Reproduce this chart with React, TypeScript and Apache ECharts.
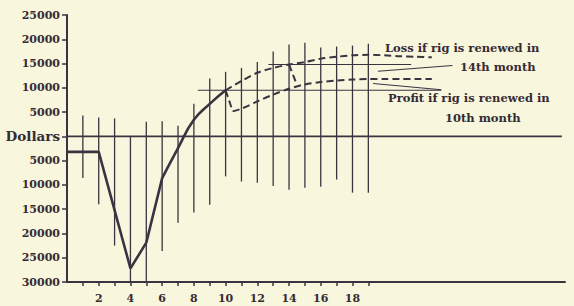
import React, { useEffect, useRef } from 'react';
import * as echarts from 'echarts';

// ---- data ----
const yTickValues = [-30000, -25000, -20000, -15000, -10000, -5000, 0, 5000, 10000, 15000, 20000, 25000];
const xLabelMonths = [2, 4, 6, 8, 10, 12, 14, 16, 18];
const xTickMonths = [1, 2, 3, 4, 5, 6, 7, 8, 9, 10, 11, 12, 13, 14, 15, 16, 17, 18, 19];

// vertical range lines per month
const rangeMonths = [1, 2, 3, 4, 5, 6, 7, 8, 9, 10, 11, 12, 13, 14, 15, 16, 17, 18, 19];
const rangeHighs = [4300, 3900, 3700, 0, 3000, 3100, 2200, 6700, 11900, 13300, 14100, 15300, 17500, 18900, 19300, 18300, 18500, 18700, 19100];
const rangeLows = [-8600, -14000, -22500, -30000, -30000, -23600, -17800, -15700, -14100, -8250, -9300, -9550, -10200, -11000, -10600, -10400, -8900, -11600, -11600];

// main solid curve
const earlyMonths = [0, 2, 4, 5, 6];
const earlyValues = [-3200, -3200, -27200, -21900, -8600];
const riseMonths = [6, 7, 8, 9, 10];
const riseValues = [-8600, -2400, 3400, 6700, 9500];

// dashed continuation (no renewal until 14th month)
const upperMonths = [10, 11, 12, 13, 14, 15, 16, 17, 18, 19, 20, 21, 22, 23];
const upperValues = [9500, 11400, 13100, 14100, 14800, 15300, 16000, 16400, 16700, 16800, 16700, 16500, 16400, 16300];

// renewal in 10th month: drop then dashed rise
const drop10Months = [10, 10.45];
const drop10Values = [9500, 5150];
const lowerMonths = [10.45, 11, 12, 13, 14, 15, 16, 17, 18, 19, 20, 21, 22, 23];
const lowerValues = [5150, 5700, 7200, 8600, 9800, 10700, 11200, 11500, 11700, 11800, 11800, 11800, 11800, 11800];

// renewal in 14th month: drop
const drop14Months = [14, 14.5];
const drop14Values = [14800, 10600];

// reference horizontals
const zeroLine = { from: 0, to: 31.2, value: 0 };
const level10 = { from: 8.25, to: 23.6, value: 9500 };
const level14 = { from: 12.7, to: 21.7, value: 14800 };

// annotation arrows [fromMonth, fromValue, toMonth, toValue]
const lossArrow = [24.3, 14600, 19.6, 13400];
const profitArrow = [23.6, 9600, 19.3, 10900];

const INK = '#3d3340';
const TEXT = '#352c33';
const BG = '#f9f6de';
const FONT = '"DejaVu Serif", "Liberation Serif", serif';

const zip = (xs: number[], ys: number[]) => xs.map((x, i) => [x, ys[i]]);

export default function App() {
  const ref = useRef<HTMLDivElement>(null);
  useEffect(() => {
    if (!ref.current) return;
    document.body.style.background = BG;
    const chart = echarts.init(ref.current, null, { renderer: 'svg' });
    const dashed = { color: INK, width: 2, type: [7, 4] as any };
    const option: any = {
      animation: false,
      backgroundColor: BG,
      grid: { left: 67, right: 9, top: 15, bottom: 24, containLabel: false },
      xAxis: {
        type: 'value',
        min: 0,
        max: 31.4,
        axisLine: { show: true, onZero: false, lineStyle: { color: INK, width: 2 } },
        axisTick: { show: true, inside: false, length: 4, lineStyle: { color: INK, width: 1.5 }, customValues: xTickMonths },
        axisLabel: {
          show: true,
          customValues: xLabelMonths,
          color: TEXT,
          fontFamily: FONT,
          fontWeight: 'bold',
          fontSize: 11,
          margin: 11,
        },
        splitLine: { show: false },
      },
      yAxis: {
        type: 'value',
        min: -30000,
        max: 25000,
        axisLine: { show: true, onZero: false, lineStyle: { color: INK, width: 2 } },
        axisTick: { show: true, inside: false, length: 5, lineStyle: { color: INK, width: 1.5 }, customValues: yTickValues },
        axisLabel: {
          show: true,
          customValues: yTickValues,
          color: TEXT,
          fontFamily: FONT,
          fontWeight: 'bold',
          fontSize: 11,
          margin: 7,
          formatter: (v: number) => (v === 0 ? '{d|Dollars}' : String(Math.abs(v))),
          rich: { d: { fontFamily: FONT, fontWeight: 'bold', fontSize: 13.5, color: TEXT } },
        },
        splitLine: { show: false },
      },
      series: [
        {
          type: 'custom',
          silent: true,
          renderItem: (params: any, api: any) => {
            const p1 = api.coord([api.value(0), api.value(1)]);
            const p2 = api.coord([api.value(0), api.value(2)]);
            return {
              type: 'line',
              shape: { x1: p1[0], y1: p1[1], x2: p2[0], y2: p2[1] },
              style: { stroke: INK, lineWidth: 1.3 },
            };
          },
          encode: { x: 0, y: [1, 2] },
          data: rangeMonths.map((m, i) => [m, rangeHighs[i], rangeLows[i]]),
          z: 1,
        },
        {
          type: 'line',
          data: [[zeroLine.from, zeroLine.value], [zeroLine.to, zeroLine.value]],
          symbol: 'none',
          lineStyle: { color: INK, width: 1.6 },
          z: 2,
        },
        {
          type: 'line',
          data: [[level10.from, level10.value], [level10.to, level10.value]],
          symbol: 'none',
          lineStyle: { color: INK, width: 1.2 },
          z: 2,
          markLine: {
            silent: true,
            symbol: ['none', 'arrow'],
            symbolSize: [0, 7],
            label: { show: false },
            lineStyle: { color: INK, width: 1.1, type: 'solid' },
            data: [
              [{ coord: [lossArrow[0], lossArrow[1]] }, { coord: [lossArrow[2], lossArrow[3]] }],
              [{ coord: [profitArrow[0], profitArrow[1]] }, { coord: [profitArrow[2], profitArrow[3]] }],
            ],
          },
        },
        {
          type: 'line',
          data: [[level14.from, level14.value], [level14.to, level14.value]],
          symbol: 'none',
          lineStyle: { color: INK, width: 1.2 },
          z: 2,
        },
        {
          type: 'line',
          data: zip(earlyMonths, earlyValues),
          symbol: 'none',
          lineStyle: { color: INK, width: 2.6 },
          z: 5,
        },
        {
          type: 'line',
          data: zip(riseMonths, riseValues),
          symbol: 'none',
          smooth: 0.5,
          lineStyle: { color: INK, width: 2.6 },
          z: 5,
        },
        {
          type: 'line',
          data: zip(upperMonths, upperValues),
          symbol: 'none',
          smooth: 0.3,
          lineStyle: dashed,
          z: 4,
        },
        {
          type: 'line',
          data: zip(drop10Months, drop10Values),
          symbol: 'none',
          lineStyle: dashed,
          z: 4,
        },
        {
          type: 'line',
          data: zip(lowerMonths, lowerValues),
          symbol: 'none',
          smooth: 0.3,
          lineStyle: dashed,
          z: 4,
        },
        {
          type: 'line',
          data: zip(drop14Months, drop14Values),
          symbol: 'none',
          lineStyle: dashed,
          z: 4,
        },
      ],
      graphic: [
        { type: 'text', x: 385, y: 48, style: { text: 'Loss if rig is renewed in', fill: TEXT, font: `bold 11.5px ${FONT}`, textVerticalAlign: 'middle' } },
        { type: 'text', x: 460, y: 67, style: { text: '14th month', fill: TEXT, font: `bold 11.5px ${FONT}`, textVerticalAlign: 'middle' } },
        { type: 'text', x: 388, y: 98, style: { text: 'Profit if rig is renewed in', fill: TEXT, font: `bold 11.5px ${FONT}`, textVerticalAlign: 'middle' } },
        { type: 'text', x: 445, y: 118, style: { text: '10th month', fill: TEXT, font: `bold 11.5px ${FONT}`, textVerticalAlign: 'middle' } },
      ],
    };
    chart.setOption(option);
    return () => chart.dispose();
  }, []);
  return <div ref={ref} style={{ position: 'fixed', left: 0, top: 0, width: 574, height: 306, background: BG }} />;
}
